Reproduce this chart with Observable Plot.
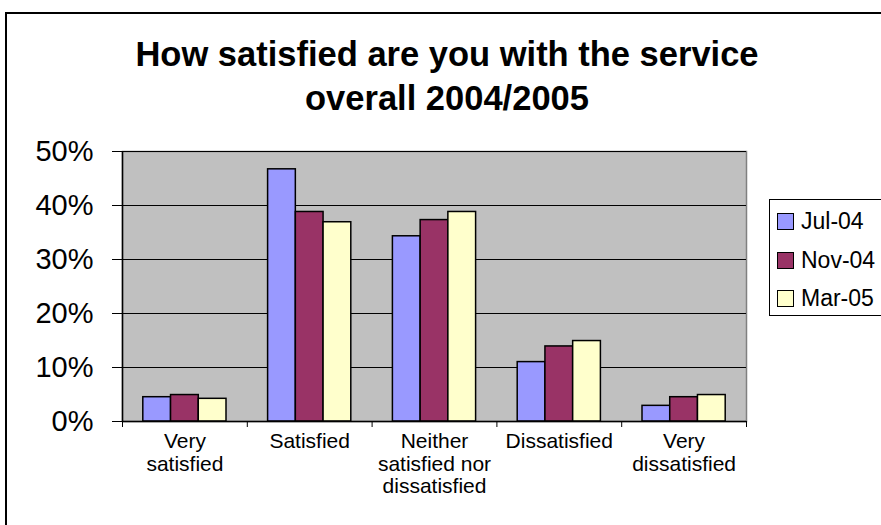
<!DOCTYPE html>
<html>
<head>
<meta charset="utf-8">
<script src="https://cdn.jsdelivr.net/npm/d3@7"></script>
<script src="https://cdn.jsdelivr.net/npm/@observablehq/plot@0.6"></script>
<style>
html, body { margin: 0; padding: 0; background: #fff; width: 881px; height: 525px; overflow: hidden; }
#page { position: relative; width: 881px; height: 525px; overflow: hidden; font-family: "Liberation Sans", Arial, sans-serif; color: #000; }
#frame { position: absolute; left: 5px; top: 12px; width: 884px; height: 600px; border: 2px solid #000; box-sizing: border-box; }
#title { position: absolute; left: 5px; width: 884px; top: 32px; text-align: center; font-weight: bold; font-size: 34.5px; line-height: 44px; }
#chart { position: absolute; left: 0; top: 125px; }
#legend { position: absolute; left: 769px; top: 199px; width: 140px; height: 117px; border: 1px solid #000; box-sizing: border-box; background: #fff; }
.item { position: absolute; left: 7px; height: 23px; display: flex; align-items: center; font-size: 23px; white-space: nowrap; }
.sw { width: 15px; height: 15px; border: 1px solid #000; margin-right: 7px; flex: none; }
</style>
</head>
<body>
<div id="page">
  <div id="frame"></div>
  <div id="title">How satisfied are you with the service<br>overall 2004/2005</div>
  <div id="chart"></div>
  <div id="legend"></div>
</div>
<script>
const categories = ["Very\nsatisfied", "Satisfied", "Neither\nsatisfied nor\ndissatisfied", "Dissatisfied", "Very\ndissatisfied"];
const series = ["Jul-04", "Nov-04", "Mar-05"];
const jul04 = [4.5, 46.7, 34.3, 11.0, 2.9];
const nov04 = [4.9, 38.8, 37.3, 13.9, 4.5];
const mar05 = [4.2, 36.9, 38.8, 14.9, 4.9];
const colors = ["#9999FF", "#993366", "#FFFFCC"];
const yTicks = [0, 10, 20, 30, 40, 50];

const values = [jul04, nov04, mar05];
const rows = [];
categories.forEach((c, ci) => series.forEach((s, si) => rows.push({ci, si, category: c, series: s, value: values[si][ci] / 100})));

// Excel-style clustering: gap width 150% => each bar is 2/9 of a category slot
const barW = 2 / 9, gap = 1 / 6;
const font = "'Liberation Sans', Arial, sans-serif";

const chart = Plot.plot({
  width: 881,
  height: 400,
  marginLeft: 122,
  marginRight: 135,
  marginTop: 26,
  marginBottom: 104,
  style: {fontFamily: font, background: "transparent", overflow: "visible", color: "#000"},
  x: {domain: [0, categories.length], axis: null, label: null},
  y: {domain: [0, 0.5], axis: null, label: null},
  color: {domain: series, range: colors},
  marks: [
    Plot.frame({fill: "#c0c0c0", stroke: "#808080", strokeWidth: 1.5}),
    Plot.gridY(yTicks.map(t => t / 100), {stroke: "#000", strokeOpacity: 1, strokeWidth: 1}),
    Plot.rect(rows, {
      x1: d => d.ci + gap + d.si * barW,
      x2: d => d.ci + gap + (d.si + 1) * barW,
      y1: 0,
      y2: "value",
      fill: "series",
      stroke: "#000",
      strokeWidth: 1.5
    }),
    Plot.ruleX([0], {stroke: "#000", strokeWidth: 1.5}),
    Plot.ruleY([0], {stroke: "#000", strokeWidth: 1.5}),
    Plot.axisY({ticks: yTicks.map(t => t / 100), tickFormat: d3.format(".0%"), tickSize: 10, tickPadding: 19, fontSize: 29, label: null, stroke: "#000"}),
    Plot.axisX({ticks: d3.range(categories.length + 1), tickSize: 6, tickFormat: () => "", label: null, stroke: "#000"}),
    Plot.axisX({
      ticks: categories.map((c, i) => i + 0.5),
      tickSize: 0,
      tickPadding: 11,
      tickFormat: d => categories[Math.floor(d)],
      fontSize: 21,
      lineHeight: 1.06,
      label: null
    })
  ]
});
document.getElementById("chart").appendChild(chart);

const legend = document.getElementById("legend");
series.forEach((s, i) => {
  const item = document.createElement("div");
  item.className = "item";
  item.style.top = (10 + i * 38.5) + "px";
  const sw = document.createElement("span");
  sw.className = "sw";
  sw.style.background = colors[i];
  const label = document.createElement("span");
  label.textContent = s;
  item.appendChild(sw);
  item.appendChild(label);
  legend.appendChild(item);
});
</script>
</body>
</html>
